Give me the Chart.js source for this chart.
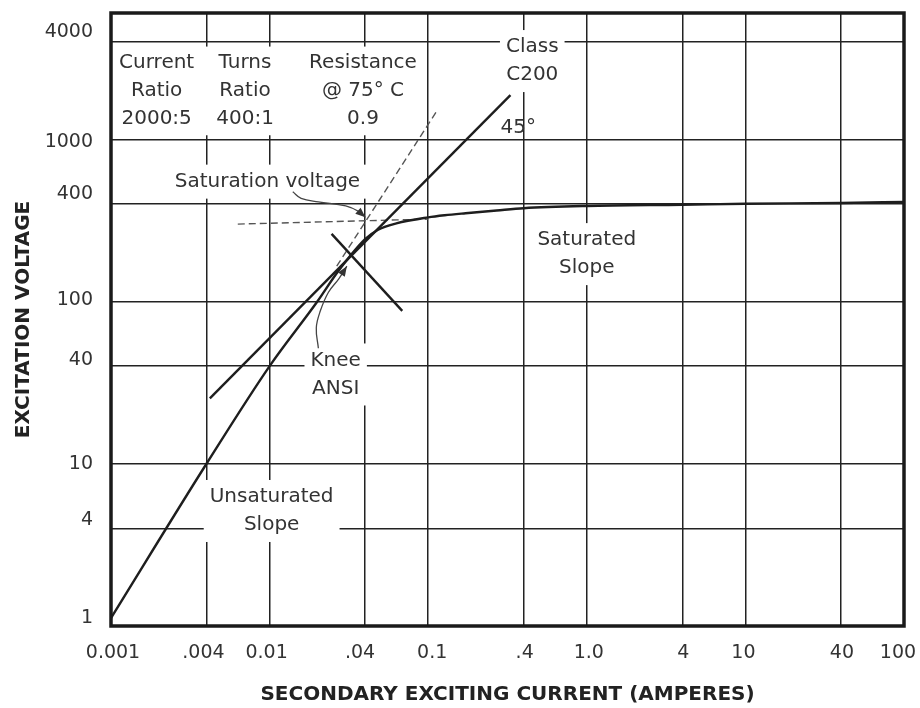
<!DOCTYPE html>
<html>
<head>
<meta charset="utf-8">
<script src="https://cdn.jsdelivr.net/npm/chart.js@4.4.1/dist/chart.umd.min.js"></script>
<style>
  html, body { margin: 0; padding: 0; background: #fff; }
  canvas { display: block; }
</style>
</head>
<body>
<canvas id="c" width="920" height="708"></canvas>
<script>
// tick values and labels (log-log excitation chart)
const currentTicks = [0.001, 0.004, 0.01, 0.04, 0.1, 0.4, 1, 4, 10, 40, 100];
const currentLabels = ['0.001', '.004', '0.01', '.04', '0.1', '.4', '1.0', '4', '10', '40', '100'];
const voltageTicks = [1, 4, 10, 40, 100, 400, 1000, 4000];
const voltageLabels = ['1', '4', '10', '40', '100', '400', '1000', '4000'];

// excitation curve
const excCurrent = [0.001, 0.004, 0.01, 0.02, 0.027, 0.04, 0.048, 0.063, 0.1, 0.127, 0.172, 0.27, 0.4, 1, 4, 10, 40, 100];
const excVoltage = [1.12, 10, 40, 100, 153, 242, 276, 303, 330, 340, 350, 364, 376, 388, 395, 400, 405, 411];

// 45 degree line (Class C200)
const c200Current = [0.0042, 0.33];
const c200Voltage = [25.3, 1870];

// short line crossing the knee
const crossCurrent = [0.0246, 0.0686];
const crossVoltage = [261, 87.6];

// dashed extensions of the two slopes
const satExtCurrent = [0.0063, 0.1];
const satExtVoltage = [300, 322];
const unsatExtCurrent = [0.0265, 0.113];
const unsatExtVoltage = [165, 1487];

// pointer arrows
const satArrowCurrent = [0.014, 0.0158, 0.0203, 0.0302, 0.0366, 0.0402];
const satArrowVoltage = [474, 432, 411, 388, 358, 330];
const kneeArrowCurrent = [0.0203, 0.0197, 0.0209, 0.0235, 0.0273, 0.0307];
const kneeArrowVoltage = [51.5, 68.9, 87.6, 114, 138, 165];

const FONT = '20px "DejaVu Sans"';
const LH = 28;

// text notes, placed in data coordinates
const notes = [
  { lines: ['Current', 'Ratio', '2000:5'], x: 0.00194, y: 2950, bg: false },
  { lines: ['Turns', 'Ratio', '400:1'], x: 0.007, y: 2950, bg: false },
  { lines: ['Resistance', '@ 75° C', '0.9'], x: 0.0388, y: 2950, bg: false },
  { lines: ['Class', 'C200'], x: 0.453, y: 3700, bg: true },
  { lines: ['45°'], x: 0.37, y: 1183, bg: false },
  { lines: ['Saturation voltage'], x: 0.0097, y: 548, bg: true },
  { lines: ['Saturated', 'Slope'], x: 1.0, y: 239, bg: true },
  { lines: ['Knee', 'ANSI'], x: 0.0261, y: 43.3, bg: true },
  { lines: ['Unsaturated', 'Slope'], x: 0.0103, y: 6.24, bg: true }
];

// small nudges of tick labels, as printed in the original
const yLabelNudge = [-8, -8, 0, -6, -1, -10, 3, -10];
const xLabelNudge = [2, -3, -3, -5, 4, 1, 2, 1, -2, 1, -6];

function pts(xs, ys) {
  return xs.map((v, i) => ({ x: v, y: ys[i] }));
}

// keep the plot area where the layout padding puts it
function noLabelPadding(s) {
  s.paddingLeft = 0; s.paddingRight = 0; s.paddingTop = 0; s.paddingBottom = 0;
}

const annotate = {
  id: 'annotate',
  beforeDraw(chart) {
    const { x, y } = chart.scales;
    x.getLabelItems(chart.chartArea).forEach((it, i) => { it.options.translation[0] += xLabelNudge[i] || 0; });
    y.getLabelItems(chart.chartArea).forEach((it, i) => { it.options.translation[1] += yLabelNudge[i] || 0; });
  },
  beforeDatasetsDraw(chart) {
    const { ctx, chartArea, scales: { x, y } } = chart;
    ctx.save();
    ctx.fillStyle = '#fff';
    // white table box under the header text
    const t = y.getPixelForValue(4000) + 5;
    const b = y.getPixelForValue(1000) - 4;
    ctx.fillRect(chartArea.left + 2, t, x.getPixelForValue(0.1) - chartArea.left - 5, b - t);
    ctx.font = FONT;
    notes.forEach(n => {
      if (!n.bg) return;
      const cx = x.getPixelForValue(n.x), cy = y.getPixelForValue(n.y);
      const w = Math.max(...n.lines.map(l => ctx.measureText(l).width));
      ctx.fillRect(cx - w / 2 - 6, cy - LH / 2 - 3, w + 12, n.lines.length * LH + 6);
    });
    ctx.restore();
  },
  afterDatasetsDraw(chart) {
    const { ctx, chartArea, scales: { x, y } } = chart;
    ctx.save();
    // arrowheads
    ctx.fillStyle = '#333';
    [[satArrowCurrent, satArrowVoltage], [kneeArrowCurrent, kneeArrowVoltage]].forEach(([xs, ys]) => {
      const n = xs.length;
      const x1 = x.getPixelForValue(xs[n - 2]), y1 = y.getPixelForValue(ys[n - 2]);
      const x2 = x.getPixelForValue(xs[n - 1]), y2 = y.getPixelForValue(ys[n - 1]);
      const a = Math.atan2(y2 - y1, x2 - x1);
      ctx.beginPath();
      ctx.moveTo(x2, y2);
      ctx.lineTo(x2 - 10 * Math.cos(a) + 4 * Math.sin(a), y2 - 10 * Math.sin(a) - 4 * Math.cos(a));
      ctx.lineTo(x2 - 10 * Math.cos(a) - 4 * Math.sin(a), y2 - 10 * Math.sin(a) + 4 * Math.cos(a));
      ctx.closePath();
      ctx.fill();
    });
    // text
    ctx.font = FONT;
    ctx.fillStyle = '#333';
    ctx.textAlign = 'center';
    ctx.textBaseline = 'middle';
    notes.forEach(n => {
      const cx = x.getPixelForValue(n.x), cy = y.getPixelForValue(n.y);
      n.lines.forEach((l, i) => ctx.fillText(l, cx, cy + i * LH));
    });
    // frame
    ctx.strokeStyle = '#1a1a1a';
    ctx.lineWidth = 3.5;
    ctx.strokeRect(chartArea.left, chartArea.top, chartArea.right - chartArea.left, chartArea.bottom - chartArea.top);
    ctx.restore();
  }
};

const solid = { showLine: true, pointRadius: 0, borderColor: '#1e1e1e', borderWidth: 2.4, fill: false };
const dashed = { showLine: true, pointRadius: 0, borderColor: '#555', borderWidth: 1.4, borderDash: [7, 4], fill: false };
const thin = { showLine: true, pointRadius: 0, borderColor: '#444', borderWidth: 1.3, fill: false, tension: 0.4 };

new Chart(document.getElementById('c'), {
  type: 'scatter',
  data: {
    datasets: [
      { ...solid, data: pts(excCurrent, excVoltage), cubicInterpolationMode: 'monotone' },
      { ...solid, data: pts(c200Current, c200Voltage) },
      { ...solid, data: pts(crossCurrent, crossVoltage) },
      { ...dashed, data: pts(satExtCurrent, satExtVoltage) },
      { ...dashed, data: pts(unsatExtCurrent, unsatExtVoltage) },
      { ...thin, data: pts(satArrowCurrent, satArrowVoltage) },
      { ...thin, data: pts(kneeArrowCurrent, kneeArrowVoltage) }
    ]
  },
  options: {
    responsive: false,
    animation: false,
    devicePixelRatio: 1,
    layout: { padding: { left: 0, right: 16, top: 13, bottom: 0 } },
    plugins: { legend: { display: false }, tooltip: { enabled: false } },
    scales: {
      x: {
        type: 'logarithmic',
        min: 0.001,
        max: 100,
        afterBuildTicks: s => { s.ticks = currentTicks.map(v => ({ value: v })); },
        afterFit: s => { s.height = 82; noLabelPadding(s); },
        border: { display: false },
        grid: { color: '#222', lineWidth: 1.5, drawTicks: false },
        ticks: {
          autoSkip: false, maxRotation: 0, padding: 16, color: '#333',
          font: { family: 'DejaVu Sans', size: 19 },
          callback: (v, i) => currentLabels[i]
        },
        title: {
          display: true, text: 'SECONDARY EXCITING CURRENT (AMPERES)', color: '#222',
          font: { family: 'DejaVu Sans', size: 20, weight: 'bold' },
          padding: { top: 0, bottom: 1 }
        }
      },
      y: {
        type: 'logarithmic',
        min: 1,
        max: 6000,
        afterBuildTicks: s => { s.ticks = voltageTicks.map(v => ({ value: v })); },
        afterFit: s => { s.width = 111; noLabelPadding(s); },
        border: { display: false },
        grid: { color: '#222', lineWidth: 1.5, drawTicks: false },
        ticks: {
          autoSkip: false, padding: 18, color: '#333',
          font: { family: 'DejaVu Sans', size: 19 },
          callback: (v, i) => voltageLabels[i]
        },
        title: {
          display: true, text: 'EXCITATION VOLTAGE', color: '#222',
          font: { family: 'DejaVu Sans', size: 20, weight: 'bold' },
          padding: { top: 12, bottom: 0 }
        }
      }
    }
  },
  plugins: [annotate]
});
</script>
</body>
</html>
